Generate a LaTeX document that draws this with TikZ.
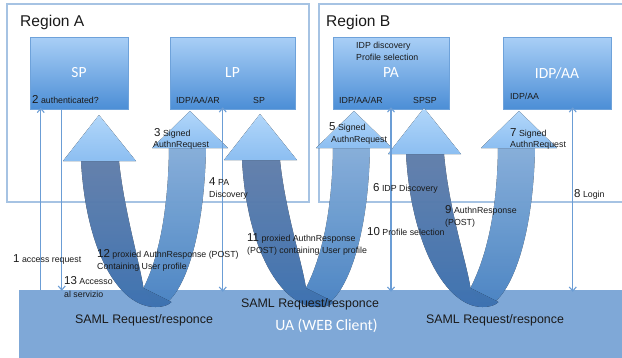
\documentclass[tikz,border=0pt]{standalone}
\usepackage{fontspec}
\setmainfont{Liberation Sans}
\newfontfamily\titlefont{Carlito}
\usetikzlibrary{arrows.meta}

\definecolor{regionline}{HTML}{A6C3E3}
\definecolor{boxtop}{HTML}{A9CFF6}
\definecolor{boxbot}{HTML}{4C8ED6}
\definecolor{boxedge}{HTML}{6EA2DA}
\definecolor{uafill}{HTML}{7FA8D7}
\definecolor{flow}{HTML}{6B9DD5}
\definecolor{armdarktop}{HTML}{6E8FC0}
\definecolor{armdarkbot}{HTML}{4580C6}
\definecolor{armlighttop}{HTML}{96C3F3}
\definecolor{armlightbot}{HTML}{5393DA}
\definecolor{headtop}{HTML}{B2D7FA}
\definecolor{headbot}{HTML}{8CBEF1}
\definecolor{ink}{HTML}{1A1A1A}

% step number followed by smaller caption text
\newcommand\stepno[1]{{\fontsize{11.5}{12}\selectfont #1}}

% U-shaped SAML round trip through the browser:
% #1 left shaft centre, #2 right shaft centre, #3 base of the left arrow head
\newcommand\ubend[3]{%
  \pgfmathsetmacro\um{(#1+#2)/2}%
  \fill[lightarm] ({\um+12},307) .. controls ({\um+35},307) and ({#2+17},250) .. ({#2+19},148)
     -- ({#2-18},148) .. controls ({#2-19},230) and ({\um+9},270) .. (\um,288) -- cycle;
  \fill[darkarm] ({#1-19},#3) .. controls ({#1-14},{#3+90}) and ({\um-25},307) .. ({\um+12},307)
     .. controls ({\um+20},307) and ({\um+25},305) .. ({\um+28},302)
     -- (\um,288) .. controls ({\um-4},262) and ({#1+24},210) .. ({#1+19},#3) -- cycle;
  \fill[bighead] ({#1-37},#3) -- ({#1-1},{#3-46}) -- ({#1+36},#3) -- cycle;
  \fill[bighead] ({#2-35},148) -- ({#2+3},111) -- ({#2+41},148) -- cycle;
}

\begin{document}
\begin{tikzpicture}[x=1pt,y=-1pt,
  region/.style={draw=regionline,line width=1.2pt},
  regiontitle/.style={font=\fontsize{15.6}{17}\selectfont,text=ink,anchor=base west,inner sep=0pt},
  entity/.style={draw=boxedge,line width=0.5pt,top color=boxtop,bottom color=boxbot,
    minimum width=#1,minimum height=72pt,inner sep=0pt,
    font=\titlefont\fontsize{15.5}{17}\selectfont,text=white},
  client/.style={fill=uafill,minimum width=615pt,minimum height=70pt,inner sep=0pt},
  tag/.style={font=\fontsize{8.8}{10.5}\selectfont,text=ink,anchor=base west,inner sep=0pt},
  saml/.style={font=\fontsize{12.4}{14}\selectfont,text=ink,anchor=base,inner sep=0pt},
  flowline/.style={draw=flow,line width=1.3pt,-{Straight Barb[length=4pt,width=7pt,line width=1.1pt]}},
  flowboth/.style={flowline,{Straight Barb[length=4pt,width=7pt,line width=1.1pt]}-{Straight Barb[length=4pt,width=7pt,line width=1.1pt]}},
  darkarm/.style={top color=armdarktop,bottom color=armdarkbot,opacity=0.88},
  lightarm/.style={top color=armlighttop,bottom color=armlightbot,opacity=0.88},
  bighead/.style={top color=headtop,bottom color=headbot}
]
\path[use as bounding box] (0,0) rectangle (622,357);
\clip (0,0) rectangle (622,357);

% regions
\draw[region] (7,4) rectangle (309,202);
\draw[region] (319,4) rectangle (640,202);
\node[regiontitle] (rega) at (20,26) {Region A};
\node[regiontitle] (regb) at (326,26) {Region B};

% entities
\node[entity=98pt]  (sp)  at (79,73)    {SP};
\node[entity=125pt] (lp)  at (232.5,73) {LP};
\node[entity=116pt] (pa)  at (391,73)   {PA};
\node[entity=108pt] (idp) at (557,73)   {IDP/AA};

% user agent
\node[client] (ua) at (326.5,325) {};
\node[font=\titlefont\fontsize{15.7}{17}\selectfont,text=white,anchor=base,inner sep=0pt] (uatitle) at (326.5,330) {UA (WEB Client)};

% SAML round trips through the user agent
\ubend{100}{187}{161}
\ubend{261}{351}{160}
\ubend{425}{516}{154}

% labels inside the entities
\node[tag] (spauth) at (32,103) {\stepno{2} authenticated?};
\node[tag] (lpidp) at (176,103) {IDP/AA/AR};
\node[tag] (lpsp)  at (253,103) {SP};
\node[tag] (pados) at (356,48) {IDP discovery};
\node[tag] (paprof) at (356,60) {Profile selection};
\node[tag] (paidp) at (339,103) {IDP/AA/AR};
\node[tag] (pasp)  at (413,103) {SPSP};
\node[tag] (idpin) at (510,99) {IDP/AA};

% anchor points of the direct flows
\coordinate (f1)  at ([xshift=11pt]sp.south west);
\coordinate (f13) at ([xshift=32pt]sp.south west);
\coordinate (f4)  at ([xshift=53pt]lp.south west);
\coordinate (f6)  at (pa.south);
\coordinate (f8)  at ([xshift=70pt]idp.south west);

\draw[flowline] (ua.north -| f1) -- ([yshift=1.5pt]f1);
\draw[flowline] (f13) -- ([yshift=-1pt]ua.north -| f13);
\draw[flowboth] ([yshift=2pt]f4) -- ([yshift=-2pt]ua.north -| f4);
\draw[flowboth] ([yshift=2pt]f6) -- ([yshift=-2pt]ua.north -| f6);
\draw[flowboth] ([yshift=2pt]f8) -- ([yshift=-2pt]ua.north -| f8);

% step captions
\node[tag] (c1) at (13,262) {\stepno{1} access request};
\node[tag] (c13a) at (64,284) {\stepno{13} Accesso};
\node[tag] (c13b) at (64,297) {al servizio};
\node[tag] (c3a) at (154,136) {\stepno{3} Signed};
\node[tag] (c3b) at (153,147) {AuthnRequest};
\node[tag] (c4a) at (209,185) {\stepno{4} PA};
\node[tag] (c4b) at (209,197) {Discovery};
\node[tag] (c5a) at (329,130) {\stepno{5} Signed};
\node[tag] (c5b) at (331,142) {AuthnRequest};
\node[tag] (c6) at (373,191) {\stepno{6} IDP Discovery};
\node[tag] (c7a) at (510,136) {\stepno{7} Signed};
\node[tag] (c7b) at (510,147) {AuthnRequest};
\node[tag] (c8) at (574,197) {\stepno{8} Login};
\node[tag] (c9a) at (445,213) {\stepno{9} AuthnResponse};
\node[tag] (c9b) at (445,225) {(POST)};
\node[tag] (c10) at (367,235) {\stepno{10} Profile selection};
\node[tag] (c11a) at (247,241) {\stepno{11} proxied AuthnResponse};
\node[tag] (c11b) at (247,253) {(POST) containing User profile};
\node[tag] (c12a) at (97,257) {\stepno{12} proxied AuthnResponse (POST)};
\node[tag] (c12b) at (97,269) {Containing User profile};

% exchanges carried by the user agent
\node[saml] (s1) at (144,323) {SAML Request/responce};
\node[saml] (s2) at (310,307) {SAML Request/responce};
\node[saml] (s3) at (495,323) {SAML Request/responce};
\end{tikzpicture}
\end{document}
